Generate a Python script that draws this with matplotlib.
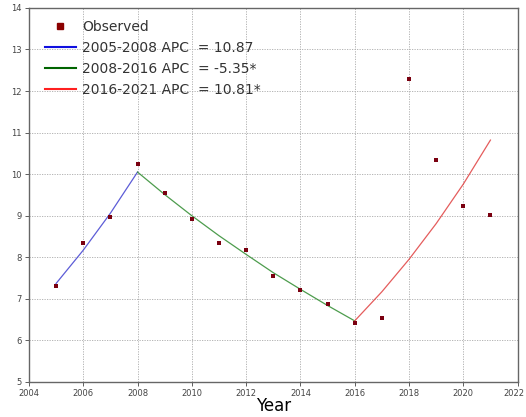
import matplotlib
matplotlib.use("Agg")
import matplotlib.pyplot as plt
import matplotlib.transforms as mtransforms
from matplotlib.lines import Line2D

years = [2005, 2006, 2007, 2008, 2009, 2010, 2011, 2012, 2013, 2014, 2015, 2016, 2017, 2018, 2019, 2020, 2021]
observed = [7.30, 8.34, 8.97, 10.24, 9.54, 8.92, 8.34, 8.18, 7.54, 7.21, 6.88, 6.42, 6.55, 12.30, 10.35, 9.23, 9.02]

seg1_years = [2005, 2006, 2007, 2008]
seg1_fit = [7.37, 8.17, 9.06, 10.05]
seg2_years = [2008, 2009, 2010, 2011, 2012, 2013, 2014, 2015, 2016]
seg2_fit = [10.05, 9.51, 9.00, 8.52, 8.07, 7.63, 7.23, 6.84, 6.47]
seg3_years = [2016, 2017, 2018, 2019, 2020, 2021]
seg3_fit = [6.47, 7.17, 7.95, 8.81, 9.76, 10.82]

labels = ["Observed", "2005-2008 APC  = 10.87", "2008-2016 APC  = -5.35*", "2016-2021 APC  = 10.81*"]
xticks = list(range(2004, 2023, 2))
yticks = list(range(5, 15))

fig = plt.figure(figsize=(5.26, 4.17), dpi=100)
ax = fig.add_axes([0.055, 0.084, 0.929, 0.897])

ax.plot(seg1_years, seg1_fit, color="#4040d0", lw=0.9, alpha=0.85, zorder=2)
ax.plot(seg2_years, seg2_fit, color="#2e8b2e", lw=0.9, alpha=0.85, zorder=2)
ax.plot(seg3_years, seg3_fit, color="#e04040", lw=0.9, alpha=0.85, zorder=2)
ax.scatter(years, observed, marker="s", s=9, color="#7a0010", zorder=3, linewidths=0)

ax.set_xlim(2004, 2022)
ax.set_ylim(5, 14)
ax.set_xticks(xticks)
ax.set_yticks(yticks)
ax.tick_params(labelsize=6.0, colors="#444444", length=3, width=0.6, pad=2)
ax.grid(True, linestyle=(0, (1.5, 1.5)), color="#aaaaaa", lw=0.6)
for s in ax.spines.values():
    s.set_color("#666666")
    s.set_linewidth(1.0)
ax.set_xlabel("Year", fontsize=12, labelpad=-1)

last = ax.get_xticklabels()[-1]
last.set_transform(last.get_transform() + mtransforms.ScaledTranslation(-3 / 72, 0, fig.dpi_scale_trans))

handles = [
    Line2D([], [], marker="s", ls="none", color="#8b0000", markersize=4),
    Line2D([], [], color="#1010e0", lw=1.5),
    Line2D([], [], color="#006400", lw=1.5),
    Line2D([], [], color="#ff2020", lw=1.5),
]
leg = ax.legend(handles, labels, loc="upper left", frameon=False, fontsize=10,
                handlelength=2.2, handletextpad=0.5, labelspacing=0.5,
                borderaxespad=0, borderpad=0,
                bbox_to_anchor=(16 / 488, 1 - 12 / 374))
for t in leg.get_texts():
    t.set_color("#333333")

fig.savefig("out.png", dpi=100)
